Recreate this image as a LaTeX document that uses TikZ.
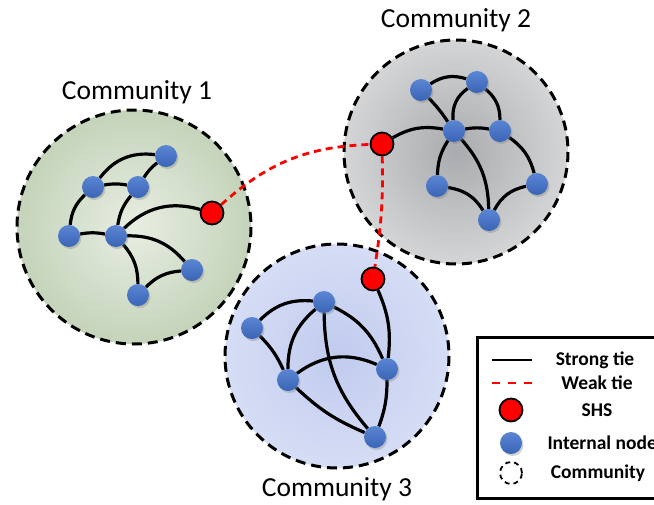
\documentclass[tikz,border=0pt]{standalone}
\usepackage{fontspec}
\setmainfont{Carlito}
\usetikzlibrary{shadows}
\definecolor{nodetop}{HTML}{5A86D4}
\definecolor{nodebot}{HTML}{3A64B5}
\definecolor{shsred}{HTML}{FF0000}
\definecolor{greenin}{HTML}{E8EEE2}
\definecolor{greenout}{HTML}{C4D3BA}
\definecolor{grayin}{HTML}{A9ABAE}
\definecolor{grayout}{HTML}{D4D5D7}
\definecolor{bluein}{HTML}{C0CBEE}
\definecolor{blueout}{HTML}{D6DDF5}
\pgfdeclarelayer{bg}
\pgfdeclarelayer{edges}
\pgfsetlayers{bg,edges,main}
\tikzset{
  commborder/.style={draw=black, line width=3pt, dash pattern=on 10pt off 6pt},
  inode/.style={circle, minimum size=22pt, inner sep=0pt, top color=nodetop, bottom color=nodebot,
    drop shadow={opacity=0.35, shadow xshift=1.5pt, shadow yshift=-2pt}},
  shs/.style={circle, minimum size=23pt, inner sep=0pt, fill=shsred, draw=black, line width=1.8pt},
  strong/.style={draw=black, line width=3.2pt},
  weak/.style={draw=shsred, line width=2.8pt, dash pattern=on 7pt off 5pt},
  commlabel/.style={font=\fontsize{27.5}{31}\selectfont},
  legtext/.style={font=\bfseries\fontsize{19.5}{23}\selectfont}
}
\begin{document}
\begin{tikzpicture}[x=1pt,y=-1pt]
\useasboundingbox (0,0) rectangle (654,504);
\clip (0,0) rectangle (654,504);

% community areas
\begin{pgfonlayer}{bg}
  \shade[inner color=greenin, outer color=greenout] (134,227) circle (117);
  \draw[commborder] (134,227) circle (117);
  \shade[inner color=grayin, outer color=grayout] (456,152) circle (112);
  \draw[commborder] (456,152) circle (112);
  \shade[inner color=bluein, outer color=blueout] (337,356) circle (112);
  \draw[commborder] (337,356) circle (112);
\end{pgfonlayer}

% community labels
\node[commlabel] (lab1) at (137,92) {Community 1};
\node[commlabel] (lab2) at (456,20) {Community 2};
\node[commlabel] (lab3) at (337,489) {Community 3};

% community 1
\node[inode] (a1) at (166,156) {};
\node[inode] (b1) at (93,187) {};
\node[inode] (c1) at (138,187) {};
\node[inode] (d1) at (69,236) {};
\node[inode] (e1) at (116,236) {};
\node[inode] (f1) at (192,270) {};
\node[inode] (g1) at (138,295) {};
\node[shs] (s1) at (212,213) {};

% community 2
\node[inode] (a2) at (421,90) {};
\node[inode] (b2) at (477,82) {};
\node[inode] (c2) at (454,131) {};
\node[inode] (d2) at (500,131) {};
\node[inode] (e2) at (437,186) {};
\node[inode] (f2) at (537,184) {};
\node[inode] (g2) at (489,220) {};
\node[shs] (s2) at (382,144) {};

% community 3
\node[inode] (a3) at (252,328) {};
\node[inode] (b3) at (324,302) {};
\node[inode] (c3) at (288,380) {};
\node[inode] (d3) at (387,369) {};
\node[inode] (e3) at (375,437) {};
\node[shs] (s3) at (373,279) {};

\begin{pgfonlayer}{edges}
  % ties inside community 1
  \draw[strong] (b1) to[bend left=30] (a1);
  \draw[strong] (b1) to[bend left=10] (c1);
  \draw[strong] (c1) to[bend left=10] (a1);
  \draw[strong] (b1) to[bend right=20] (d1);
  \draw[strong] (d1) to[bend left=10] (e1);
  \draw[strong] (e1) to[bend left=15] (c1);
  \draw[strong] (e1) to[bend left=30] (s1);
  \draw[strong] (e1) to[bend left=25] (f1);
  \draw[strong] (e1) to[bend left=20] (g1);
  \draw[strong] (g1) to[bend left=20] (f1);
  % ties inside community 2
  \draw[strong] (a2) to[bend left=25] (b2);
  \draw[strong] (a2) to[bend left=5] (c2);
  \draw[strong] (c2) to[bend left=30] (b2);
  \draw[strong] (b2) to[bend left=25] (d2);
  \draw[strong] (c2) to[bend left=10] (d2);
  \draw[strong] (s2) to[bend left=20] (c2);
  \draw[strong] (c2) to[bend right=15] (e2);
  \draw[strong] (c2) to[bend left=20] (g2);
  \draw[strong] (d2) to[bend left=20] (f2);
  \draw[strong] (e2) to[bend left=25] (g2);
  \draw[strong] (g2) to[bend left=25] (f2);
  % ties inside community 3
  \draw[strong] (a3) to[bend left=25] (b3);
  \draw[strong] (a3) to[bend left=10] (c3);
  \draw[strong] (c3) to[bend left=25] (b3);
  \draw[strong] (b3) to[bend left=20] (d3);
  \draw[strong] (b3) to[bend right=20] (e3);
  \draw[strong] (c3) to[bend left=30] (d3);
  \draw[strong] (c3) to[bend right=10] (e3);
  \draw[strong] (d3) to[bend left=10] (e3);
  \draw[strong] (s3) to[bend left=15] (d3);
  % ties between communities
  \draw[weak] (s1) to[bend left=20] (s2);
  \draw[weak] (s2) to[bend left=5] (s3);
\end{pgfonlayer}

% legend
\node[draw=black, line width=2.6pt, minimum width=190pt, minimum height=161pt, anchor=north west, inner sep=0pt] (legend) at (476,336) {};
\coordinate (ls0) at (492,360);
\coordinate (ls1) at (532,360);
\draw[strong, line width=2.6pt] (ls0) -- (ls1);
\node[legtext] (lt1) at (595,360) {Strong tie};
\coordinate (lw0) at (492,383);
\coordinate (lw1) at (532,383);
\draw[weak, line width=2.6pt, dash pattern=on 8pt off 8pt] (lw0) -- (lw1);
\node[legtext] (lt2) at (597,383) {Weak tie};
\node[shs] (lshs) at (511,410) {};
\node[legtext] (lt3) at (597,410) {SHS};
\node[inode] (lin) at (511,443) {};
\node[legtext, anchor=west] (lt4) at (544,443) {Internal node};
\node[circle, minimum size=22pt, inner sep=0pt, draw=black, line width=1.8pt, dash pattern=on 5pt off 4pt] (lcom) at (511,473) {};
\node[legtext] (lt5) at (598,473) {Community};
\end{tikzpicture}
\end{document}
